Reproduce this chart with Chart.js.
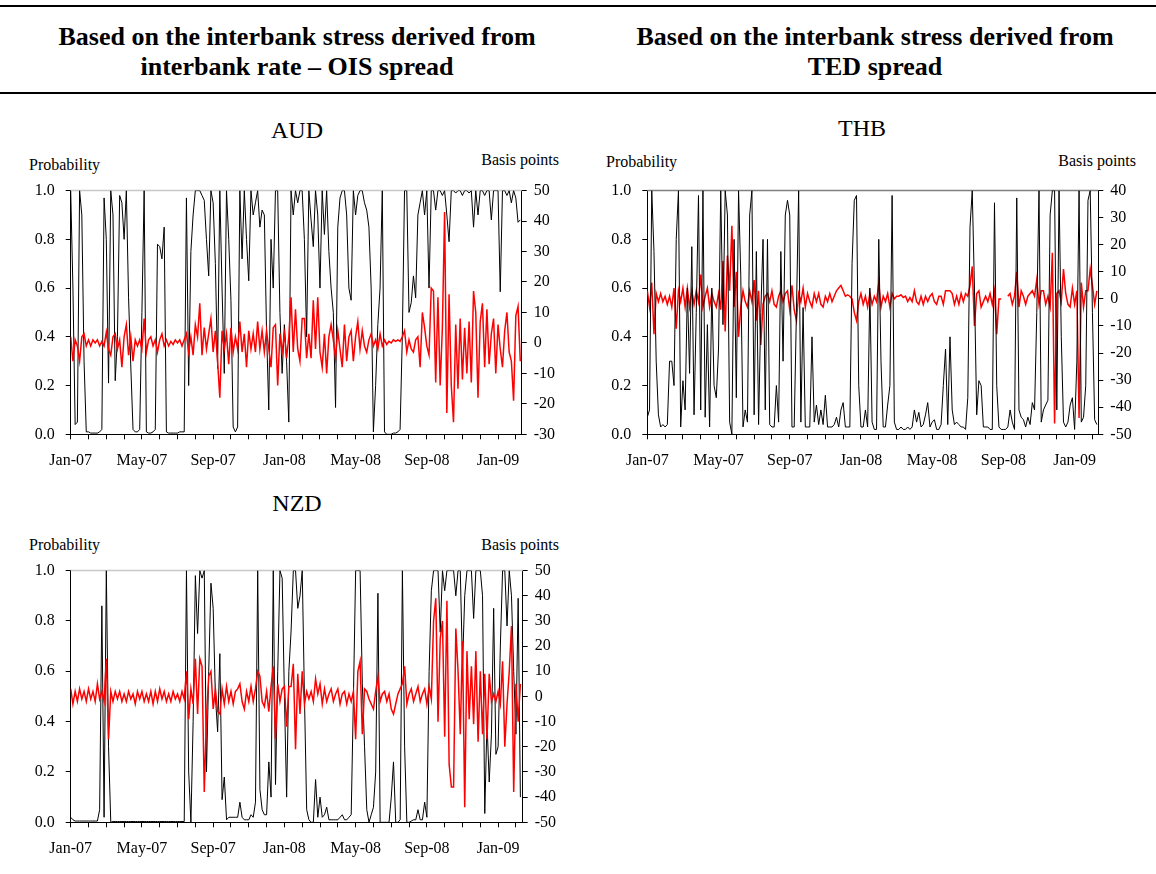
<!DOCTYPE html>
<html>
<head>
<meta charset="utf-8">
<script src="https://cdn.jsdelivr.net/npm/chart.js@4.4.0/dist/chart.umd.min.js"></script>
<style>
body { margin:0; width:1156px; height:874px; position:relative; background:#fff; overflow:hidden;
       font-family:"Liberation Serif","Times New Roman",serif; color:#000; }
.rule { position:absolute; left:0; width:1156px; height:2px; background:#000; }
.head { position:absolute; width:580px; text-align:center; font-weight:bold; font-size:26px; line-height:30px; }
.title { position:absolute; width:300px; text-align:center; font-size:24px; line-height:30px; }
.lab { position:absolute; font-size:16px; line-height:16px; white-space:nowrap; }
canvas { position:absolute; }
</style>
</head>
<body>
<div class="rule" style="top:5px"></div>
<div class="head" style="left:7px;top:22px">Based on the interbank stress derived from<br>interbank rate – OIS spread</div>
<div class="head" style="left:585px;top:22px">Based on the interbank stress derived from<br>TED spread</div>
<div class="rule" style="top:92px"></div>

<div class="title" style="left:147px;top:115px">AUD</div>
<div class="title" style="left:712px;top:113px">THB</div>
<div class="title" style="left:147px;top:488px">NZD</div>

<div class="lab" style="left:29px;top:157px">Probability</div>
<div class="lab" style="right:597px;top:152px">Basis points</div>
<div class="lab" style="left:606px;top:154px">Probability</div>
<div class="lab" style="right:20px;top:153px">Basis points</div>
<div class="lab" style="left:29px;top:537px">Probability</div>
<div class="lab" style="right:597px;top:537px">Basis points</div>

<canvas id="aud" width="600" height="310" style="left:0;top:170px"></canvas>
<canvas id="thb" width="576" height="310" style="left:580px;top:170px"></canvas>
<canvas id="nzd" width="600" height="310" style="left:0;top:550px"></canvas>

<script>
// x axis: months from Jan-07, one tick per month, label every 4th
const monthTicks = [0,1,2,3,4,5,6,7,8,9,10,11,12,13,14,15,16,17,18,19,20,21,22,23,24,25];
const tickLabels = ['Jan-07','May-07','Sep-07','Jan-08','May-08','Sep-08','Jan-09'];
const perMonth = 8; // readings taken twice a week

// AUD - interbank rate minus OIS
const audProb = [
  1.0,0.6,0.04,0.05,1.0,0.9,0.3,0.01,0.01,0.005,
  0.005,0.005,0.005,0.01,0.02,0.97,0.8,0.21,1.0,0.9,
  0.22,0.4,0.98,0.95,0.8,1.0,0.56,0.28,0.02,0.01,
  0.01,0.02,0.5,1.0,0.01,0.005,0.005,0.01,0.02,0.78,
  0.77,0.72,0.85,0.01,0.005,0.005,0.005,0.005,0.005,0.01,
  0.01,0.01,0.97,0.2,0.75,0.9,1.0,1.0,1.0,0.98,
  0.96,0.8,0.65,1.0,0.95,0.7,0.27,1.0,0.6,0.25,
  1.0,0.8,0.55,0.03,0.01,0.03,1.0,0.72,1.0,0.8,
  0.63,1.0,0.9,0.95,1.0,0.85,0.92,0.9,0.42,0.1,
  0.8,0.6,1.0,1.0,0.5,0.25,0.45,0.3,0.05,1.0,
  0.9,1.0,0.95,1.0,1.0,0.8,0.4,1.0,0.88,0.77,
  1.0,0.9,0.6,1.0,0.82,1.0,0.75,0.6,0.5,0.11,
  0.85,0.97,1.0,1.0,0.9,0.6,0.55,1.0,0.9,0.98,
  1.0,1.0,0.95,0.92,0.85,0.6,0.01,0.2,0.45,0.6,
  1.0,0.01,0.0,0.0,0.0,0.005,0.005,0.01,0.02,0.4,
  1.0,1.0,0.5,0.54,0.65,0.56,0.9,0.95,1.0,0.9,
  1.0,0.6,1.0,1.0,0.92,1.0,1.0,0.98,1.0,0.9,
  0.79,1.0,1.0,0.99,1.0,1.0,0.98,1.0,1.0,0.99,
  1.0,0.85,1.0,0.9,1.0,1.0,0.98,1.0,1.0,0.88,
  1.0,1.0,1.0,0.585,1.0,1.0,0.98,1.0,0.95,1.0,
  0.97,0.87,0.88
];
const audBp = [
  2,-6,1,-1,-6,2,3,-1,1,-1,
  1,0,1,-1,0.5,-1,3.5,-2,-4,2,
  3,-2,1,-8,2,6,-4,2,-6,1,
  -1,1,-2,8,-3,1,2,-1,1,-3,
  1,3,-1,1,-1,0.5,-0.5,1,0,1,
  -1,1,3,-3,2,-4,6,2,13,-4,
  5,-2,3,8,-3,4,-6,-18,4,-2,
  3,-7,5,-3,2,-2,7,-3,3,-8,
  4,-2,3,-3,7,-2,4,-3,4,-2,
  -8,5,6,-14,3,-3,3,-5,2,15,
  -3,11,-2,-6,8,8,-5,3,-5,14,
  -2,15,-3,-8,3,-10,2,6,1,-5,
  4,-2,-8,6,-6,2,4,-6,2,7,
  -2,4,-1,-3,1,3,-1,1,-2,3,
  -1,1,-0.5,0.5,0,1,0.5,1,0.5,2,
  4,-3,1,-2,-3,1,2,-8,10,5,
  -1,-4,18,17,-13,15,-14,5,43,-23,
  16,-14,-26,6,-15,8,-12,5,-10,7,
  -13,17,10,-18,7,13,-8,11,-7,3,
  8,-10,6,-2,-8,4,10,-3,-6,-19,
  9,12,-6
];

// THB - TED spread
const thbProb = [
  0.07,0.1,1.0,0.75,0.3,0.08,0.03,0.04,0.03,0.04,
  0.3,0.3,0.2,0.8,1.0,0.03,0.22,0.1,0.6,0.25,
  0.77,0.08,0.5,0.98,0.1,1.0,0.07,0.45,0.03,0.6,
  0.2,0.15,0.35,1.0,0.45,1.0,0.9,0.05,0.0,0.8,
  0.15,1.0,0.65,0.03,0.1,0.05,0.9,1.0,0.08,0.75,
  0.04,0.5,0.8,0.1,0.8,0.04,0.03,0.03,0.2,0.05,
  0.75,0.3,0.9,0.96,0.9,0.03,0.03,0.5,1.0,0.05,
  0.52,0.03,0.03,0.03,0.4,0.05,0.12,0.04,0.1,0.04,
  0.16,0.03,0.03,0.03,0.04,0.07,0.03,0.1,0.13,0.03,
  0.03,0.03,0.7,0.96,0.98,0.2,0.03,0.03,0.1,0.03,
  0.6,0.05,0.02,0.02,0.8,0.3,0.03,0.03,0.12,0.2,
  0.98,0.05,0.02,0.02,0.03,0.02,0.02,0.03,0.02,0.03,
  0.1,0.05,0.09,0.03,0.04,0.08,0.13,0.03,0.05,0.06,
  0.02,0.02,0.04,0.2,0.35,0.04,0.4,0.1,0.04,0.05,
  0.04,0.03,0.03,0.02,0.15,0.85,1.0,0.6,0.08,0.22,
  0.2,0.03,0.03,0.03,0.02,0.02,0.95,0.2,0.03,0.02,
  0.02,0.02,0.03,0.1,0.05,0.02,0.97,0.1,0.07,0.06,
  0.03,0.07,0.04,0.13,0.1,0.5,1.0,0.05,0.1,0.12,
  0.14,0.9,1.0,1.0,0.1,1.0,0.4,0.05,0.03,0.05,
  0.12,0.15,0.02,0.3,1.0,0.05,0.07,0.2,0.96,1.0,
  0.5,0.06,0.04
];
const thbBp = [
  3,-3,6,-13,2,-1,2,-1,1,-2,
  1,-3,4,-11,3,-1,4,-3,4,-3,
  3,-2,3,-1,9,-3,1,4,-3,2,
  -1,-3,2,-4,14,-12,16,3,27,-3,
  10,-14,-3,3,-1,-3,3,-1,7,-8,
  3,-17,-2,1,2,-1,3,-2,-3,1,
  3,-1,2,3,-4,5,-4,-8,2,-1,
  4,-3,2,-1,-3,2,-1,2,-2,-3,
  1,-1,2,-1,1,3,4,5,3,1,
  1.5,1,0,-5,-8,-1,2,-2,1,-3,
  2,-2,1,-1,6,-3,1,-1,2,-3,
  2,0,1,1,1.5,0.5,1,-1,0.5,-1,
  3,-1,-2,1,-2,1,-1,1,2,-1,
  -2,1,1,-2,3,3,3,2,-2,1,
  -2,2,-1,2,1,5,12,-10,2,3,
  -3,-1,1,-1,2,-2,3,-13,0,0,
  null,null,1,2,-2,1,10,-3,3,1,
  -2,1,2,3,1,7,-2,3,3,-2,
  1,-3,17,-46,2,3,-1,11,2,-2,
  -3,4,-2,3,-44,6,-3,3,3,11,
  5,-2,3
];

// NZD - interbank rate minus OIS
const nzdProb = [
  0.02,0.01,0.005,0.005,0.005,0.005,0.005,0.005,0.005,0.005,
  0.005,0.005,0.005,0.05,0.86,0.02,1.0,0.3,0.0,0.003,
  0.003,0.003,0.003,0.003,0.003,0.003,0.003,0.003,0.003,0.003,
  0.003,0.003,0.003,0.003,0.003,0.003,0.003,0.003,0.003,0.003,
  0.003,0.003,0.003,0.003,0.003,0.003,0.003,0.003,0.003,0.003,
  0.003,0.003,1.0,0.2,0.0,0.4,0.98,0.75,1.0,0.97,
  1.0,0.2,0.6,0.95,0.85,0.5,0.36,0.67,0.09,0.18,
  0.01,0.02,0.02,0.02,0.02,0.02,0.08,0.02,0.01,0.01,
  0.01,0.03,0.02,0.08,1.0,0.13,0.05,0.03,0.03,0.24,
  0.1,1.0,0.15,0.6,1.0,0.97,0.5,0.1,0.6,0.76,
  1.0,1.0,0.85,0.9,1.0,0.5,0.05,0.01,0.0,0.0,
  0.17,0.02,0.1,0.02,0.03,0.06,0.01,0.01,0.01,0.01,
  0.01,0.02,0.03,0.01,0.01,0.02,0.03,0.5,1.0,1.0,
  1.0,0.55,0.3,0.05,0.0,0.03,0.06,0.2,0.91,0.0,
  0.0,0.0,0.0,0.0,0.1,0.24,0.0,0.0,0.01,1.0,
  0.3,0.0,0.0,0.005,0.01,0.01,0.05,0.01,0.01,0.08,
  0.02,0.6,0.92,1.0,1.0,1.0,0.755,1.0,0.92,1.0,
  1.0,1.0,1.0,0.9,1.0,1.0,0.62,0.9,1.0,1.0,
  1.0,0.81,1.0,1.0,1.0,0.9,0.035,0.4,0.16,0.35,
  0.85,0.27,0.3,0.7,1.0,1.0,0.78,1.0,0.9,0.6,
  0.35,0.89,0.1
];
const nzdBp = [
  3,-3,2,-2,3,-1,2,-2,3,-1,
  2,-2,5,-1,2,-2,15,-17,2,-2,
  2,-1,2,-2,1,-2,2,-1,1,-3,
  2,-1,2,-2,1,-2,2,-3,2,-2,
  3,-1,2,-2,1,-2,2,-1,1,-2,
  2,-1,10,-9,3,-3,15,-7,15,12,
  -38,-8,8,10,-5,3,-6,-7,3,-3,
  4,-2,2,-3,2,3,5,-2,-5,2,
  -2,4,-2,3,10,8,-2,-4,2,-6,
  4,12,-17,5,-2,3,4,-12,4,4,
  13,-21,9,-7,10,-3,2,-1,2,-2,
  7,1,5,-3,3,-2,1,3,-2,1,
  3,-3,1,2,-3,1,-2,2,-17,10,
  14,-15,3,2,-1,-3,-5,2,8,-2,
  1,2,-2,1,-5,-7,-3,1,3,5,
  12,-3,1,3,-2,1,4,-2,1,3,
  -3,4,-1,30,39,-10,23,30,-16,38,
  -27,-36,-36,27,10,-15,22,-44,18,-9,
  12,-11,18,-18,10,-15,9,-17,9,-2,
  1,-2,2,-3,14,-20,-3,10,28,-38,
  5,-10,5
];

const font = { family: '"Liberation Serif","Times New Roman",serif', size: 16 };

function pts(arr) {
  return arr.map((v, i) => ({ x: i / perMonth, y: v }));
}

// thin line along the top of the plot box
const topLine = {
  id: 'topLine',
  beforeDatasetsDraw(chart, args, opts) {
    const a = chart.chartArea, c = chart.ctx;
    c.save();
    c.strokeStyle = opts.color;
    c.lineWidth = 1.5;
    c.beginPath();
    c.moveTo(a.left, a.top);
    c.lineTo(a.right, a.top);
    c.stroke();
    c.restore();
  }
};

function makeChart(id, prob, bp, bpMin, bpMax, box, redOnTop, topColor, xMax) {
  const probSet = { data: pts(prob), yAxisID: 'y', borderColor: '#000', borderWidth: 1,
                    pointRadius: 0, tension: 0 };
  const bpSet = { data: pts(bp), yAxisID: 'y1', borderColor: '#ff0000', borderWidth: 1.5,
                  pointRadius: 0, tension: 0, spanGaps: false };
  new Chart(document.getElementById(id), {
    type: 'line',
    data: { datasets: redOnTop ? [bpSet, probSet] : [probSet, bpSet] },
    options: {
      responsive: false,
      animation: false,
      devicePixelRatio: 1,
      layout: { padding: { top: box.top, left: 0, right: 0, bottom: 0 } },
      plugins: { legend: { display: false }, tooltip: { enabled: false }, topLine: { color: topColor } },
      scales: {
        x: {
          type: 'linear', min: 0, max: xMax,
          afterBuildTicks: s => { s.ticks = monthTicks.map(v => ({ value: v })); },
          afterFit: s => { s.height = box.xh; },
          ticks: { autoSkip: false, maxRotation: 0, padding: 12, color: '#000', font: font,
                   callback: v => (v % 4 === 0 ? tickLabels[v / 4] : '') },
          grid: { drawOnChartArea: false, tickLength: 5, color: '#000' },
          border: { color: '#000', width: 1 }
        },
        y: {
          position: 'left', min: 0, max: 1,
          afterFit: s => { s.width = box.left; },
          ticks: { stepSize: 0.2, padding: 11, color: '#000', font: font, callback: v => v.toFixed(1) },
          grid: { drawOnChartArea: false, tickLength: 5, color: '#000' },
          border: { color: '#000', width: 1 }
        },
        y1: {
          position: 'right', min: bpMin, max: bpMax,
          afterFit: s => { s.width = box.right; },
          ticks: { stepSize: 10, padding: 7, color: '#000', font: font },
          grid: { drawOnChartArea: false, tickLength: 5, color: '#000' },
          border: { color: '#000', width: 1 }
        }
      }
    },
    plugins: [topLine]
  });
}

makeChart('aud', audProb, audBp, -30, 50, { top: 17.7, left: 70.7, right: 78.3, xh: 45.7 }, true, '#c8c8c8', 25.33);
makeChart('thb', thbProb, thbBp, -50, 40, { top: 11.5, left: 67.3, right: 57.7, xh: 45.7 }, false, '#808080', 25.33);
makeChart('nzd', nzdProb, nzdBp, -50, 50, { top: 17.7, left: 70.7, right: 77.3, xh: 37.7 }, true, '#c8c8c8', 25.38);
</script>
</body>
</html>
